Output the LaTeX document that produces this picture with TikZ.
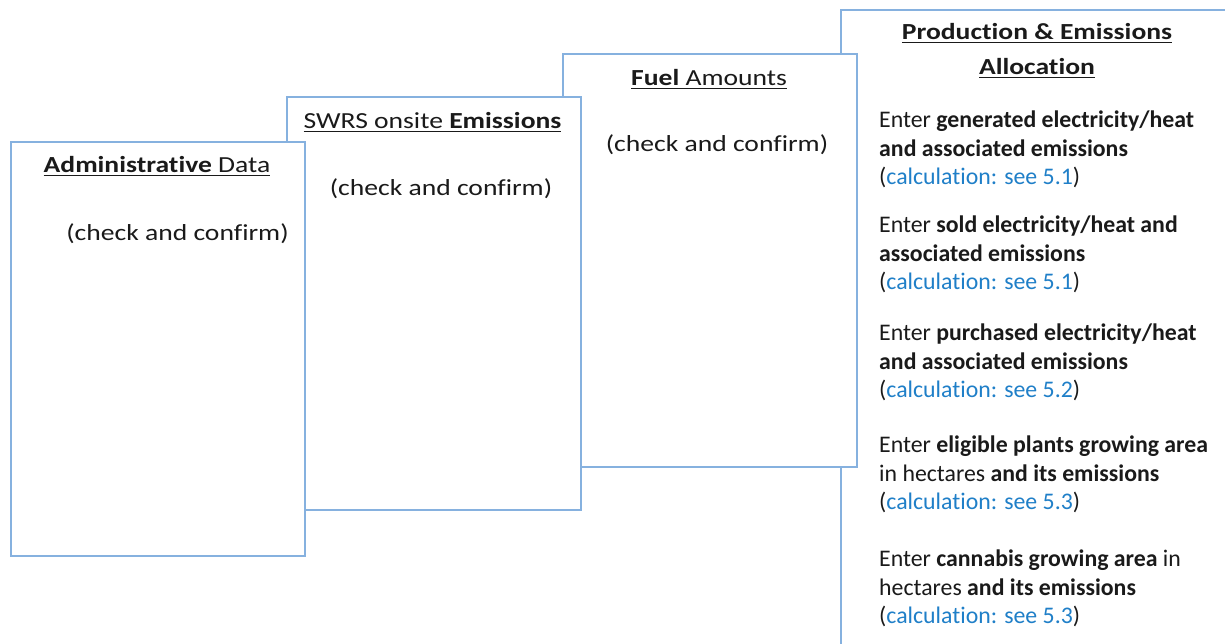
\documentclass[tikz,border=0pt]{standalone}
\usepackage{graphicx}
\usepackage{fontspec}
\setmainfont{Carlito}[Ligatures=NoCommon]
\newcommand\myul[1]{\setbox0\hbox{#1}\rlap{\rule[-4.2pt]{\wd0}{1.1pt}}\box0}
\newcommand\wide[1]{\scalebox{1.2}[1]{#1}}
\definecolor{boxline}{HTML}{86B1DF}
\definecolor{linkblue}{HTML}{1F7FC8}
\definecolor{txt}{HTML}{1A1A1A}
\begin{document}
\begin{tikzpicture}[x=1pt,y=-1pt,
  card/.style={draw=boxline,line width=1.3pt,fill=white,rectangle,inner sep=0pt},
  lbl/.style={inner sep=0pt,text=txt,font=\fontsize{23}{28}\selectfont},
  ttl/.style={lbl,anchor=base},
  ln/.style={lbl,anchor=base west,font=\fontsize{23.8}{28}\selectfont}]
\useasboundingbox (0,0) rectangle (1225,643);
\clip (0,0) rectangle (1225,643);
% cards, back to front
\node[card,minimum width=400pt,minimum height=650pt] (c4) at (1041,335) {};
\node[card,minimum width=294pt,minimum height=413pt] (c3) at (710,260.5) {};
\node[card,minimum width=294pt,minimum height=413pt] (c2) at (434,303.5) {};
\node[card,minimum width=294pt,minimum height=414pt] (c1) at (158,349) {};
% card 1
\node[ttl] (t1) at (157,172) {\wide{\myul{\textbf{Administrat\kern0pt ive} Data}}};
\node[ttl] (k1) at (177.5,240) {\wide{(check and confirm)}};
% card 2
\node[ttl] (t2) at (432.5,128) {\wide{\myul{SWRS onsite \textbf{Emissions}}}};
\node[ttl] (k2) at (441,195) {\wide{(check and confirm)}};
% card 3
\node[ttl] (t3) at (709,85) {\wide{\myul{\textbf{Fuel} Amounts}}};
\node[ttl] (k3) at (717,151) {\wide{(check and confirm)}};
% card 4
\node[ttl] (t4a) at (1037,39) {\wide{\myul{\textbf{Production \& Emissions}}}};
\node[ttl] (t4b) at (1037,74) {\wide{\myul{\textbf{Allocation}}}};
\node[ln] (a1) at (879,127) {Enter \textbf{generated electricity/heat}};
\node[ln] (a2) at (879,156) {\textbf{and associated emissions}};
\node[ln] (a3) at (879,184) {(\textcolor{linkblue}{calculation: see 5.1})};
\node[ln] (b1) at (879,232) {Enter \textbf{sold electricity/heat and}};
\node[ln] (b2) at (879,261) {\textbf{associated emissions}};
\node[ln] (b3) at (879,289) {(\textcolor{linkblue}{calculation: see 5.1})};
\node[ln] (p1) at (879,340) {Enter \textbf{purchased electricity/heat}};
\node[ln] (p2) at (879,369) {\textbf{and associated emissions}};
\node[ln] (p3) at (879,397) {(\textcolor{linkblue}{calculation: see 5.2})};
\node[ln] (e1) at (879,452) {Enter \textbf{eligible plants growing area}};
\node[ln] (e2) at (879,481) {in hectares \textbf{and its emissions}};
\node[ln] (e3) at (879,509) {(\textcolor{linkblue}{calculation: see 5.3})};
\node[ln] (g1) at (879,566) {Enter \textbf{cannabis growing area} in};
\node[ln] (g2) at (879,595) {hectares \textbf{and its emissions}};
\node[ln] (g3) at (879,623) {(\textcolor{linkblue}{calculation: see 5.3})};
\end{tikzpicture}
\end{document}
